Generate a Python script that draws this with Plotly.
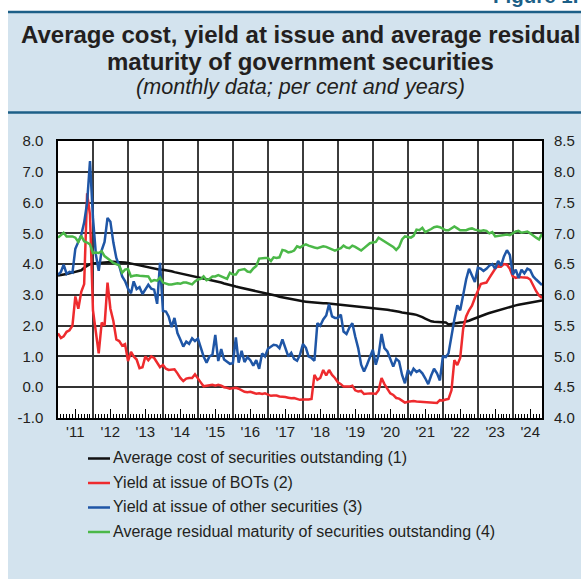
import pandas as pd
import plotly.graph_objects as go

# ---------------- data (monthly, Jan 2011 - Nov 2024) ----------------
start_month = "2011-01-01"
n_months = 167

# (1) Average cost of securities outstanding (per cent)
avg_cost = [
    3.63, 3.64, 3.66, 3.68, 3.70, 3.72, 3.74, 3.76, 3.80, 3.88, 3.95, 4.00,
    4.02, 4.03, 4.04, 4.05, 4.05, 4.06, 4.07, 4.08, 4.07, 4.07, 4.06, 4.05,
    4.04, 4.02, 4.00, 3.98, 3.95, 3.93, 3.92, 3.90, 3.88, 3.86, 3.84, 3.82,
    3.82, 3.81, 3.79, 3.77, 3.74, 3.72, 3.70, 3.67, 3.65, 3.63, 3.60, 3.58,
    3.56, 3.54, 3.52, 3.50, 3.48, 3.46, 3.44, 3.42, 3.40, 3.37, 3.34, 3.31,
    3.29, 3.27, 3.25, 3.23, 3.21, 3.19, 3.17, 3.15, 3.13, 3.11, 3.09, 3.07,
    3.05, 3.02, 3.00, 2.97, 2.94, 2.92, 2.90, 2.87, 2.85, 2.83, 2.81, 2.79,
    2.79, 2.78, 2.77, 2.77, 2.76, 2.75, 2.74, 2.73, 2.73, 2.72, 2.71, 2.70,
    2.70, 2.69, 2.68, 2.68, 2.67, 2.66, 2.65, 2.64, 2.63, 2.62, 2.61, 2.60,
    2.59, 2.58, 2.57, 2.55, 2.53, 2.52, 2.50, 2.49, 2.47, 2.45, 2.43, 2.42,
    2.41, 2.39, 2.37, 2.35, 2.32, 2.28, 2.23, 2.18, 2.14, 2.13, 2.12, 2.12,
    2.12, 2.10, 2.04, 2.06, 2.08, 2.08, 2.10, 2.11, 2.13, 2.16, 2.20, 2.24,
    2.27, 2.31, 2.34, 2.38, 2.41, 2.44, 2.47, 2.50, 2.53, 2.56, 2.59, 2.62,
    2.64, 2.66, 2.68, 2.70, 2.72, 2.74, 2.76, 2.77, 2.79, 2.81, 2.82,
]

# (2) Yield at issue of BOTs (per cent)
yield_bots = [
    1.75, 1.60, 1.65, 1.80, 1.85, 2.00, 2.95, 2.55, 3.10, 3.35, 6.30, 5.60,
    2.50, 1.70, 1.10, 2.10, 2.00, 3.40, 2.55, 2.15, 1.55, 1.50, 1.35, 1.40,
    0.85, 1.15, 1.00, 0.90, 0.62, 0.65, 1.00, 0.88, 1.00, 0.95, 0.80, 0.65,
    0.72, 0.60, 0.56, 0.57, 0.58, 0.45, 0.30, 0.20, 0.28, 0.30, 0.30, 0.42,
    0.30, 0.15, 0.03, 0.05, 0.08, 0.08, 0.05, 0.08, 0.05, 0.00, -0.02, -0.05,
    -0.03, -0.02, -0.05, -0.10, -0.15, -0.16, -0.15, -0.18, -0.21, -0.20, -0.22, -0.20,
    -0.25, -0.28, -0.27, -0.27, -0.30, -0.30, -0.32, -0.34, -0.36, -0.35, -0.38, -0.41,
    -0.40, -0.41, -0.40, -0.38, 0.40, 0.24, 0.30, 0.56, 0.38, 0.56, 0.40, 0.30,
    0.16, 0.10, 0.02, 0.02, 0.02, 0.05, -0.10, -0.14, -0.12, -0.22, -0.20, -0.20,
    -0.20, -0.22, -0.10, 0.30, 0.10, -0.05, -0.20, -0.25, -0.35, -0.37, -0.45, -0.50,
    -0.47, -0.45, -0.45, -0.46, -0.47, -0.47, -0.48, -0.50, -0.50, -0.52, -0.51, -0.42,
    -0.43, -0.40, -0.38, -0.10, 0.88, 0.72, 0.95, 1.90, 2.30, 2.50, 2.65, 2.90,
    3.15, 3.35, 3.38, 3.40, 3.55, 3.72, 3.85, 3.95, 3.92, 4.00, 3.98, 3.85,
    3.60, 3.55, 3.58, 3.57, 3.57, 3.56, 3.50, 3.30, 3.12, 2.98, 2.90,
]

# (3) Yield at issue of other securities (per cent)
yield_other = [
    3.65, 3.75, 3.98, 3.68, 3.75, 3.72, 4.50, 4.75, 4.95, 5.35, 6.00, 7.35,
    5.50, 4.30, 3.78, 4.45, 4.72, 5.50, 5.38, 4.70, 4.20, 3.95, 3.60, 3.45,
    3.20, 3.05, 3.44, 3.19, 3.25, 3.03, 3.20, 3.33, 3.20, 3.17, 2.71, 4.04,
    2.48, 2.46, 2.30, 1.95, 2.25, 1.76, 1.55, 1.32, 1.48, 1.41, 1.59, 1.50,
    1.58, 1.30, 1.00, 0.80, 1.00, 1.05, 1.70, 0.85, 1.24, 0.90, 0.82, 0.76,
    0.78, 1.62, 0.80, 1.18, 0.82, 0.98, 0.88, 0.70, 0.88, 0.60, 1.10, 1.00,
    1.25, 1.32, 1.38, 1.36, 1.27, 1.55, 1.25, 1.00, 1.12, 0.92, 0.86, 1.05,
    1.40, 1.28, 1.00, 0.95, 0.86, 2.08, 2.00, 2.20, 2.33, 2.70, 2.30, 2.25,
    2.25, 2.36, 1.81, 1.73, 1.94, 2.08, 1.65, 1.27, 0.73, 0.51, 0.73, 1.00,
    1.22, 0.73, 1.05, 1.73, 1.27, 1.16, 0.90, 0.67, 0.92, 0.84, 0.40, 0.13,
    0.56, 0.42, 0.60, 0.50, 0.55, 0.45, 0.29, 0.10, 0.38, 0.60, 0.45, 0.22,
    1.00, 0.98, 1.10, 1.70, 2.20, 2.66, 2.50, 3.00, 3.50, 3.85, 3.60, 3.42,
    3.88, 3.85, 3.78, 3.85, 3.95, 4.00, 3.85, 4.10, 3.95, 4.25, 4.45, 4.30,
    3.66, 3.82, 3.55, 3.82, 3.70, 3.85, 3.80, 3.60, 3.50, 3.40, 3.32,
]

# (4) Average residual maturity of securities outstanding (years, right scale)
residual_maturity = [
    6.93, 6.97, 7.01, 6.95, 6.95, 6.95, 6.93, 6.86, 6.96, 6.87, 6.85, 6.82,
    6.68, 6.69, 6.68, 6.71, 6.63, 6.60, 6.56, 6.52, 6.50, 6.48, 6.36, 6.41,
    6.42, 6.30, 6.31, 6.32, 6.31, 6.31, 6.30, 6.30, 6.22, 6.24, 6.23, 6.28,
    6.20, 6.18, 6.17, 6.17, 6.18, 6.19, 6.18, 6.20, 6.20, 6.19, 6.17, 6.22,
    6.25, 6.26, 6.30, 6.24, 6.26, 6.30, 6.30, 6.32, 6.30, 6.28, 6.26, 6.36,
    6.33, 6.33, 6.40, 6.41, 6.42, 6.38, 6.37, 6.43, 6.47, 6.59, 6.60, 6.60,
    6.60, 6.55, 6.61, 6.60, 6.61, 6.73, 6.72, 6.69, 6.70, 6.72, 6.79, 6.77,
    6.80, 6.82, 6.80, 6.78, 6.77, 6.76, 6.78, 6.79, 6.78, 6.76, 6.74, 6.72,
    6.74, 6.76, 6.80, 6.77, 6.76, 6.80, 6.78, 6.75, 6.72, 6.76, 6.80, 6.84,
    6.85, 6.86, 6.93, 6.90, 6.88, 6.85, 6.82, 6.78, 6.73, 6.78, 6.90, 6.95,
    6.94, 6.93, 6.96, 7.06, 7.05, 7.09, 7.02, 7.04, 7.07, 7.10, 7.11, 7.10,
    7.07, 7.05, 7.05, 7.08, 7.11, 7.08, 7.05, 7.05, 7.05, 7.07, 7.08, 7.06,
    7.05, 7.04, 7.05, 7.04, 7.00, 7.02, 6.95, 6.96, 6.96, 6.97, 6.98, 6.97,
    7.00, 7.03, 7.04, 7.01, 7.02, 7.03, 7.00, 6.96, 6.93, 6.90, 6.99,
]

series_names = [
    "Average cost of securities outstanding (1)",
    "Yield at issue of BOTs (2)",
    "Yield at issue of other securities (3)",
    "Average residual maturity of securities outstanding (4)",
]

year_labels = ["'11", "'12", "'13", "'14", "'15", "'16", "'17",
               "'18", "'19", "'20", "'21", "'22", "'23", "'24"]
left_tick_values = [-1, 0, 1, 2, 3, 4, 5, 6, 7, 8]
left_tick_labels = ["-1.0", "0.0", "1.0", "2.0", "3.0", "4.0", "5.0", "6.0", "7.0", "8.0"]
right_tick_values = [4.0, 4.5, 5.0, 5.5, 6.0, 6.5, 7.0, 7.5, 8.0, 8.5]
right_tick_labels = ["4.0", "4.5", "5.0", "5.5", "6.0", "6.5", "7.0", "7.5", "8.0", "8.5"]

title_lines = [
    "Average cost, yield at issue and average residual",
    "maturity of government securities",
    "(monthly data; per cent and years)",
]
figure_label = "Figure 1."

# ---------------- styling ----------------
W, H = 581, 579
ML, MR, MT, MB = 58, 39, 141, 161
PW, PH = W - ML - MR, H - MT - MB

def px(xp):
    return (xp - ML) / PW

def py(yp):
    return (H - MB - yp) / PH

PANEL = "#d3e3ee"
TEAL = "#1c5f87"
TEXT = "#231f20"
FONT = "Liberation Sans, Arial, Helvetica, sans-serif"
colors = ["#111111", "#ee2b2e", "#1f56a6", "#4bb848"]

dates = pd.date_range(start_month, periods=n_months, freq="MS")
x_range = [dates[0], dates[-1]]
mid_year_ticks = [pd.Timestamp(year=2011 + i, month=7, day=1) for i in range(len(year_labels))]

fig = go.Figure()
series = [avg_cost, yield_bots, yield_other, residual_maturity]
for i, (vals, name) in enumerate(zip(series, series_names)):
    fig.add_trace(go.Scatter(
        x=dates, y=vals, name=name, mode="lines",
        line=dict(color=colors[i], width=2.5),
        yaxis="y2" if i == 3 else "y",
        showlegend=False, hoverinfo="skip",
    ))
# empty helper trace so the overlaid year-label axis is drawn
fig.add_trace(go.Scatter(x=[], y=[], xaxis="x2", yaxis="y", mode="lines",
                         showlegend=False, hoverinfo="skip"))

shapes = [
    dict(type="rect", xref="paper", yref="paper", x0=px(-5), x1=px(W + 5), y0=py(11), y1=py(-5),
         fillcolor="white", line=dict(width=0), layer="below"),
    dict(type="rect", xref="paper", yref="paper", x0=px(-5), x1=px(8), y0=py(H + 5), y1=py(-5),
         fillcolor="white", line=dict(width=0), layer="below"),
    dict(type="line", xref="paper", yref="paper", x0=px(8), x1=px(W + 5), y0=py(12), y1=py(12),
         line=dict(color=TEAL, width=2.5)),
    dict(type="line", xref="paper", yref="paper", x0=px(8), x1=px(W + 5), y0=py(112.5), y1=py(112.5),
         line=dict(color=TEAL, width=2.5)),
]

annotations = [
    dict(text="<b>" + title_lines[0] + "</b>", x=px(300), y=py(34), xref="paper", yref="paper",
         xanchor="center", yanchor="middle", showarrow=False,
         font=dict(family=FONT, size=24, color=TEXT)),
    dict(text="<b>" + title_lines[1] + "</b>", x=px(300), y=py(61.5), xref="paper", yref="paper",
         xanchor="center", yanchor="middle", showarrow=False,
         font=dict(family=FONT, size=24, color=TEXT)),
    dict(text="<i>" + title_lines[2] + "</i>", x=px(300), y=py(86.5), xref="paper", yref="paper",
         xanchor="center", yanchor="middle", showarrow=False,
         font=dict(family=FONT, size=21.6, color=TEXT)),
    dict(text="<b>" + figure_label + "</b>", x=px(491), y=py(-5), xref="paper", yref="paper",
         xanchor="left", yanchor="middle", showarrow=False,
         font=dict(family=FONT, size=20.5, color=TEAL)),
]

legend_rows = [457.5, 482, 506.5, 531]
for i, (row, name) in enumerate(zip(legend_rows, series_names)):
    shapes.append(dict(type="line", xref="paper", yref="paper", x0=px(88), x1=px(110),
                       y0=py(row + 1), y1=py(row + 1), line=dict(color=colors[i], width=2.5)))
    annotations.append(dict(text=name, x=px(111), y=py(row), xref="paper", yref="paper",
                            xanchor="left", yanchor="middle", showarrow=False,
                            font=dict(family=FONT, size=16, color=TEXT)))

fig.update_layout(
    width=W, height=H, autosize=False,
    margin=dict(l=ML, r=MR, t=MT, b=MB, pad=0, autoexpand=False),
    paper_bgcolor=PANEL, plot_bgcolor="white",
    font=dict(family=FONT, size=15, color=TEXT),
    showlegend=False,
    shapes=shapes, annotations=annotations,
    xaxis=dict(
        type="date", range=x_range, tick0=start_month, dtick="M12",
        showticklabels=False, ticks="", automargin=False,
        showgrid=True, gridcolor="#3c3c3c", gridwidth=1.5,
        showline=True, linecolor="black", linewidth=1.5, mirror=True,
        zeroline=False,
        minor=dict(dtick="M1", tick0=start_month, ticks="inside", ticklen=4,
                   tickcolor="black", tickwidth=1, showgrid=False),
    ),
    xaxis2=dict(
        type="date", range=x_range, overlaying="x", anchor="y", side="bottom",
        tickmode="array", tickvals=mid_year_ticks, ticktext=year_labels,
        ticks="inside", ticklen=9, tickcolor="black", tickwidth=1.2, automargin=False,
        showticklabels=True, showgrid=False, showline=False, zeroline=False,
        tickfont=dict(size=15, color=TEXT), ticklabelstandoff=3,
    ),
    yaxis=dict(
        range=[-1, 8], tickvals=left_tick_values, ticktext=left_tick_labels,
        showgrid=True, gridcolor="#333333", gridwidth=1.5, automargin=False,
        ticks="", showline=True, linecolor="black", linewidth=1.5, mirror=True,
        zeroline=False, tickfont=dict(size=15, color=TEXT), ticklabelstandoff=10,
    ),
    yaxis2=dict(
        range=[4, 8.5], tickvals=right_tick_values, ticktext=right_tick_labels,
        overlaying="y", side="right", anchor="x", automargin=False,
        showgrid=False, zeroline=False, ticks="", showline=False,
        tickfont=dict(size=15, color=TEXT), ticklabelstandoff=11,
    ),
)

fig.write_html(
    "out.html",
    config={"displayModeBar": False},
    post_script="document.body.style.margin='0';document.body.style.overflow='hidden';"
                "document.documentElement.style.overflow='hidden';",
)
